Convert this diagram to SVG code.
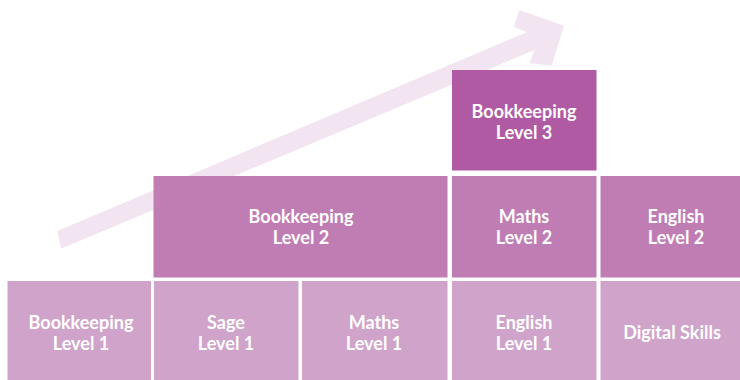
<svg xmlns="http://www.w3.org/2000/svg" width="740" height="380" viewBox="0 0 740 380">
  <style>
    .l3 { fill: #B05AA3; }
    .l2 { fill: #BF7DB4; }
    .l1 { fill: #D0A3CA; }
    .arrow { fill: #F3E4F1; }
    text { font-family: "Lato", "Liberation Sans", sans-serif; font-size: 18px; font-weight: 700; fill: #FFFFFF; text-anchor: middle; }
  </style>
  <rect x="0" y="0" width="740" height="380" fill="#FFFFFF"/>
  <g id="connectors">
    <path class="arrow" d="M57.3,231 L526.7,32.3 L514,26.7 L519.3,10 L564,25.7 L551.7,65.5 L529.3,63.3 L534.3,50 L61,248.7 Z"/>
  </g>
  <g id="bookkeeping-level-3">
    <rect class="l3" x="452" y="70" width="144.5" height="100.5"/>
    <text x="524" y="118">Bookkeeping</text>
    <text x="524" y="139">Level 3</text>
  </g>
  <g id="bookkeeping-level-2">
    <rect class="l2" x="153.5" y="176" width="294" height="101.5"/>
    <text x="301" y="223">Bookkeeping</text>
    <text x="301" y="244">Level 2</text>
  </g>
  <g id="maths-level-2">
    <rect class="l2" x="452" y="176" width="144.5" height="101.5"/>
    <text x="524" y="223">Maths</text>
    <text x="524" y="244">Level 2</text>
  </g>
  <g id="english-level-2">
    <rect class="l2" x="600.5" y="176" width="145" height="101.5"/>
    <text x="676" y="223">English</text>
    <text x="676" y="244">Level 2</text>
  </g>
  <g id="bookkeeping-level-1">
    <rect class="l1" x="7.5" y="281" width="143.5" height="110"/>
    <text x="81" y="329">Bookkeeping</text>
    <text x="81" y="350">Level 1</text>
  </g>
  <g id="sage-level-1">
    <rect class="l1" x="154" y="281" width="144.5" height="110"/>
    <text x="226" y="329">Sage</text>
    <text x="226" y="350">Level 1</text>
  </g>
  <g id="maths-level-1">
    <rect class="l1" x="302" y="281" width="145.5" height="110"/>
    <text x="374" y="329">Maths</text>
    <text x="374" y="350">Level 1</text>
  </g>
  <g id="english-level-1">
    <rect class="l1" x="452" y="281" width="144.5" height="110"/>
    <text x="524" y="329">English</text>
    <text x="524" y="350">Level 1</text>
  </g>
  <g id="digital-skills">
    <rect class="l1" x="600.5" y="281" width="145" height="110"/>
    <text x="672" y="339">Digital Skills</text>
  </g>
</svg>
